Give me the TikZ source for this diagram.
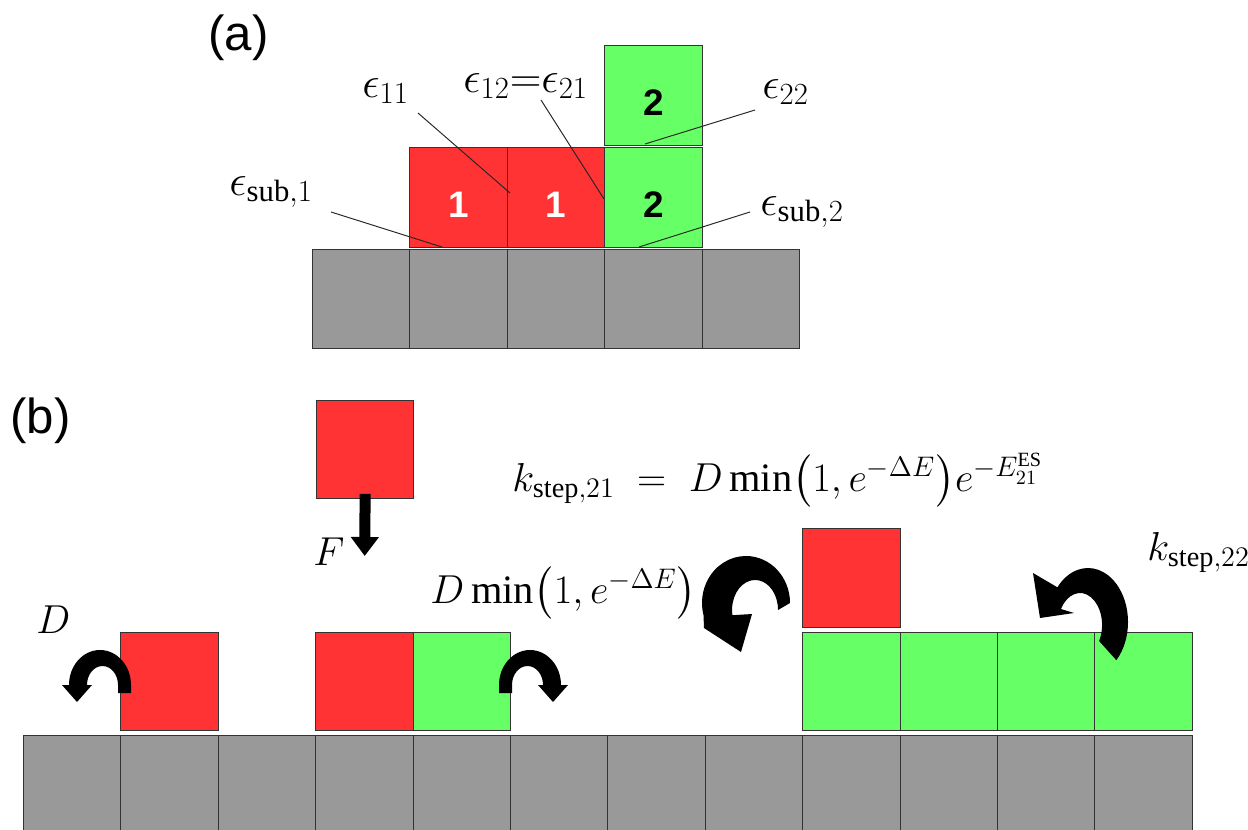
\RequirePackage{fix-cm}
\documentclass[tikz,border=0pt]{standalone}
\usepackage{amsmath}
\usepackage{fontspec}
\setmainfont{Liberation Serif}
\setsansfont{Liberation Sans}
\usetikzlibrary{arrows.meta}
\definecolor{cellgray}{HTML}{999999}
\definecolor{cellred}{HTML}{FF3333}
\definecolor{cellgreen}{HTML}{66FF66}
\newcommand{\minpar}[1]{\min\mathopen{}\left(#1\right)\mathclose{}}
\begin{document}
\begin{tikzpicture}[x=0.02cm,y=-0.02cm,
  cell/.style={draw=black!80, line width=0.5pt, anchor=north west, inner sep=0pt,
    minimum width=1.948cm, text height=0.8cm, text depth=0pt,
    font=\sffamily\bfseries\fontsize{21}{24}\selectfont},
  gcell/.style={cell, fill=cellgray},
  rcell/.style={cell, fill=cellred, text=white},
  grcell/.style={cell, fill=cellgreen},
  lab/.style={anchor=base west, inner sep=0pt, font=\fontsize{23}{27}\selectfont},
  elab/.style={anchor=base west, inner sep=0pt, font=\fontsize{25}{29}\selectfont},
  panel/.style={anchor=base west, inner sep=0pt, font=\sffamily\fontsize{28}{32}\selectfont},
  leader/.style={draw=black!85, line width=0.55pt},
  curl/.style={fill=black}]
\useasboundingbox (0,0) rectangle (1248,829);
\fill[white] (0,0) rectangle (1248,829);

% ---------------- (a)
\node[panel] (pa) at (208,50) {(a)};
\foreach \i in {0,...,4}
  \node[gcell, minimum height=1.98cm] (as\i) at ({312+97.4*\i},249) {};
\node[rcell, minimum height=2cm] (a1) at (409.4,147) {1};
\node[rcell, minimum height=2cm] (a2) at (506.8,147) {1};
\node[grcell, minimum height=2cm] (a3) at (604.2,147) {2};
\node[grcell, minimum height=2cm] (a4) at (604.2,45) {2};

\node[elab] (e11) at (362,97) {$\epsilon_{11}$};
\node[elab] (e12) at (463,92) {$\epsilon_{12}{=}\epsilon_{21}$};
\node[elab] (e22) at (762,98) {$\epsilon_{22}$};
\node[elab] (es1) at (229,195) {$\epsilon_{\mathrm{sub},1}$};
\node[elab] (es2) at (760,215) {$\epsilon_{\mathrm{sub},2}$};

\coordinate (e11s) at (418,113);  \coordinate (e11t) at (510,193);
\coordinate (e12s) at (541,100);  \coordinate (e12t) at (604,199);
\coordinate (e22s) at (755,110);  \coordinate (e22t) at (645,144);
\coordinate (es1s) at (331,212);  \coordinate (es1t) at (442,247);
\coordinate (es2s) at (750,212);  \coordinate (es2t) at (639,247);
\draw[leader] (e11s) -- (e11t);
\draw[leader] (e12s) -- (e12t);
\draw[leader] (e22s) -- (e22t);
\draw[leader] (es1s) -- (es1t);
\draw[leader] (es2s) -- (es2t);

% ---------------- (b)
\node[panel] (pb) at (10,433) {(b)};
\foreach \i in {0,...,11}
  \node[gcell, minimum height=2.1cm] (bs\i) at ({23+97.4*\i},735) {};
\node[rcell, minimum height=1.96cm] (b1) at (120.4,632) {};
\node[rcell, minimum height=1.96cm] (b3) at (315.2,632) {};
\node[grcell, minimum height=1.96cm] (b4) at (412.6,632) {};
\foreach \i in {8,...,11}
  \node[grcell, minimum height=1.96cm] (b\i) at ({23+97.4*\i},632) {};
\node[rcell, minimum height=1.98cm] (btop) at (802.2,528) {};
\node[rcell, minimum height=1.96cm] (fall) at (316,400) {};

\coordinate (ftip) at (364.7,556);
\draw[line width=0.22cm, -{Triangle[width=0.54cm,length=0.38cm]}]
  ([yshift=0.1cm]fall.south) -- (ftip);

\node[lab] (lF) at (313,565) {$F$};
\node[lab] (lD) at (36,633) {$D$};
\node[lab] (lDm) at (430,603) {$D\minpar{1, e^{-\Delta E}}$};
\node[lab] (lk21) at (512,491)
  {$k_{\mathrm{step}{,}21}\;=\;D\minpar{1, e^{-\Delta E}}e^{-E_{21}^{\mathrm{ES}}}$};
\node[lab] (lk22) at (1147,560) {$k_{\mathrm{step}{,}22}$};

% curled arrows
\fill[curl] (131,693) -- (131,685) arc[start angle=0, end angle=-180, x radius=31, y radius=35]
  -- (62,685) -- (77,702) -- (92,685) -- (87,685)
  arc[start angle=180, end angle=360, x radius=15.5, y radius=19] -- (118,693) -- cycle;
\fill[curl] (499,693) -- (499,685) arc[start angle=180, end angle=360, x radius=31, y radius=35]
  -- (568,685) -- (553,702) -- (538,685) -- (543,685)
  arc[start angle=0, end angle=-180, x radius=15.5, y radius=19] -- (512,693) -- cycle;
\fill[curl] (790,603) arc[start angle=0, end angle=-195, x radius=44, y radius=47]
  -- (704,628) -- (741,652) -- (752,614) -- (732.4,615.2)
  arc[start angle=-190, end angle=0, x radius=23, y radius=30] -- cycle;
\fill[curl] (1116.3,660.2) arc[start angle=45, end angle=-140, x radius=40, y radius=54]
  -- (1033,573) -- (1040,618) -- (1074,613) -- (1061,609)
  arc[start angle=-150, end angle=30, x radius=22, y radius=32] -- cycle;
\end{tikzpicture}
\end{document}
